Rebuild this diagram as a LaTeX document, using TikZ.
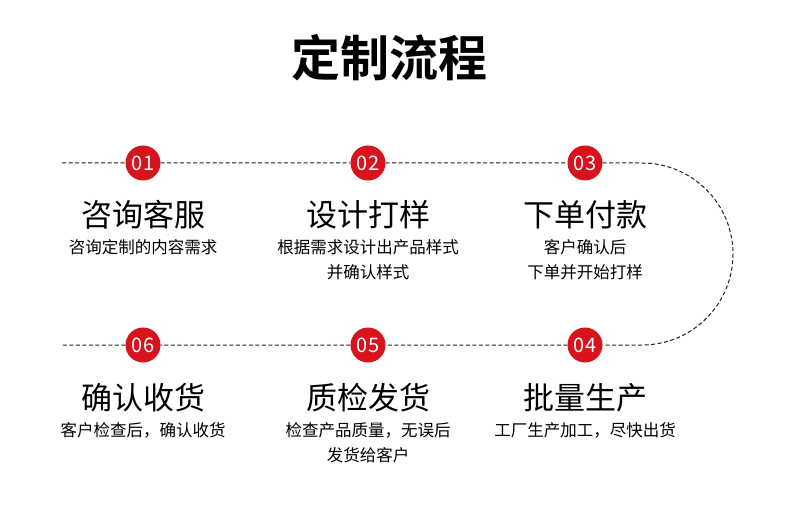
\documentclass[tikz,border=0pt]{standalone}
\usepackage{fontspec}
\newfontfamily\cjk{Noto Sans CJK SC}
\newfontfamily\cjkbold{Noto Sans CJK SC Bold}
\definecolor{stepred}{HTML}{D7141E}
\definecolor{lineg}{HTML}{222222}
\tikzset{
  num/.style={circle, fill=stepred, minimum size=35pt, inner sep=0pt, text=white,
    font=\cjk\fontsize{20}{20}\selectfont},
  head/.style={font=\cjk\fontsize{31}{31}\selectfont, text=black},
  sub/.style={font=\cjk\fontsize{16.5}{25}\selectfont, align=center, text=black},
  path/.style={draw=lineg, line width=1pt, dash pattern=on 4pt off 2.5pt},
}
\begin{document}
\begin{tikzpicture}[x=1pt, y=-1pt]
  \useasboundingbox (0,0) rectangle (790,513);

  % 标题
  \node[font=\cjkbold\fontsize{49}{49}\selectfont] (title) at (389,58) {定制流程};

  % 虚线的端点与转弯处
  \coordinate (topL) at (62,163);
  \coordinate (turnT) at (642,163);
  \coordinate (botL) at (62,345);

  % 编号圆点
  \node[num] (n1) at (143,163) {01};
  \node[num] (n2) at (368,163) {02};
  \node[num] (n3) at (585,163) {03};
  \node[num] (n4) at (585,345) {04};
  \node[num] (n5) at (368,345) {05};
  \node[num] (n6) at (143,345) {06};

  % 流程虚线（y 轴向下，所以弧从 -90 到 90）
  \draw[path] (topL) -- (n1) (n1) -- (n2) (n2) -- (n3) (n3) -- (turnT)
    arc[start angle=-90, end angle=90, radius=91] -- (n4)
    (n4) -- (n5) (n5) -- (n6) (n6) -- (botL);

  % 第一行
  \node[head] (h1) at (143,215) {咨询客服};
  \node[sub, anchor=north] (s1) at (143,236) {咨询定制的内容需求};
  \node[head] (h2) at (368,215) {设计打样};
  \node[sub, anchor=north] (s2) at (368,236) {根据需求设计出产品样式\\并确认样式};
  \node[head] (h3) at (585,215) {下单付款};
  \node[sub, anchor=north] (s3) at (585,236) {客户确认后\\下单并开始打样};

  % 第二行
  \node[head] (h6) at (143,398) {确认收货};
  \node[sub, anchor=north] (s6) at (143,419) {客户检查后，确认收货};
  \node[head] (h5) at (368,398) {质检发货};
  \node[sub, anchor=north] (s5) at (368,419) {检查产品质量，无误后\\发货给客户};
  \node[head] (h4) at (585,398) {批量生产};
  \node[sub, anchor=north] (s4) at (585,419) {工厂生产加工，尽快出货};
\end{tikzpicture}
\end{document}
